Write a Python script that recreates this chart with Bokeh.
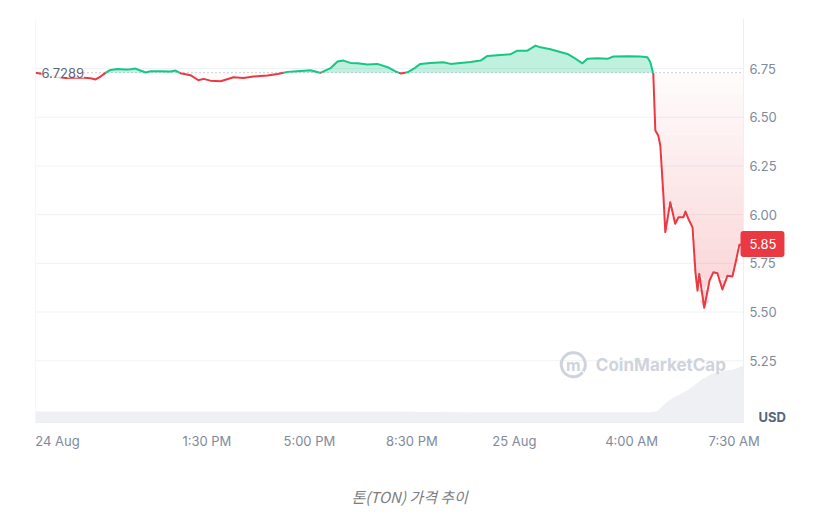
from bokeh.plotting import figure
from bokeh.models import Range1d, FixedTicker, Span, Label, Title
from bokeh.embed import file_html
from bokeh.resources import INLINE
from bokeh.core.properties import value
import numpy as np

# ---- data (hours since 24 Aug 00:00, TON price in USD) ----
hours = [7.65, 7.99, 8.33, 8.68, 9.19, 9.53, 9.70, 9.87, 10.04, 10.21, 10.45, 10.72, 10.89,
         11.06, 11.23, 11.41, 11.58, 11.92, 12.26, 12.43, 12.60, 12.94, 13.21, 13.39, 13.62,
         13.97, 14.41, 14.75, 15.09, 15.57, 15.91, 16.25, 16.70, 17.04, 17.38, 17.72, 17.96,
         18.16, 18.40, 18.64, 18.98, 19.32, 19.67, 19.94, 20.11, 20.35, 20.55, 20.79, 21.13,
         21.58, 21.82, 22.16, 22.50, 22.84, 23.08, 23.42, 23.86, 24.10, 24.44, 24.72, 24.89,
         25.23, 25.47, 25.81, 26.01, 26.32, 26.49, 26.83, 27.17, 27.38, 27.86, 28.30, 28.54,
         28.64, 28.74, 28.81, 28.91, 28.98, 29.09, 29.15, 29.32, 29.49, 29.60, 29.77, 29.84,
         29.94, 30.08, 30.18, 30.25, 30.31, 30.48, 30.66, 30.79, 30.93, 31.10, 31.27, 31.44,
         31.54, 31.68, 31.82]
prices = [6.728, 6.719, 6.709, 6.701, 6.704, 6.700, 6.694, 6.709, 6.728, 6.743, 6.748, 6.745, 6.746,
          6.750, 6.740, 6.730, 6.736, 6.736, 6.735, 6.740, 6.726, 6.716, 6.690, 6.697, 6.688,
          6.685, 6.705, 6.702, 6.709, 6.714, 6.722, 6.733, 6.738, 6.741, 6.728, 6.752, 6.786,
          6.791, 6.779, 6.777, 6.771, 6.774, 6.757, 6.735, 6.725, 6.731, 6.748, 6.774, 6.779,
          6.782, 6.774, 6.779, 6.784, 6.791, 6.815, 6.818, 6.823, 6.842, 6.842, 6.868, 6.859,
          6.849, 6.839, 6.825, 6.808, 6.777, 6.800, 6.803, 6.800, 6.812, 6.813, 6.812, 6.808,
          6.782, 6.723, 6.432, 6.406, 6.355, 6.089, 5.910, 6.064, 5.953, 5.987, 5.987, 6.016,
          5.978, 5.935, 5.704, 5.610, 5.696, 5.522, 5.662, 5.704, 5.699, 5.616, 5.686, 5.682,
          5.747, 5.846, 5.846]
open_price = 6.7289
last_price = 5.85

vol_hours = [7.65, 20.11, 20.79, 22.84, 28.64, 28.88, 29.22, 29.56, 29.90, 30.35, 30.69, 31.03, 31.47, 31.82]
vol_values = [11, 11, 10.5, 10.3, 10.3, 11.5, 21, 27, 32, 42, 48, 51, 53, 57]

tick_pos = [8.40, 13.5, 17.0, 20.5, 24.0, 28.0, 31.5]
tick_labels = ["24 Aug", "1:30 PM", "5:00 PM", "8:30 PM", "25 Aug", "4:00 AM", "7:30 AM"]
y_ticks = [5.25, 5.50, 5.75, 6.00, 6.25, 6.50, 6.75]

GREEN = "#16c784"
RED = "#ea3943"
GRAY = "#808a9d"
DARK = "#58667e"
FONT = "Inter"

x0, x1 = 7.65, 31.82
y0, y1 = 4.933, 7.007
PLOT_W = 708          # pixel width of the data area
EXTRA_W = 68          # room at the right for the price scale
x_end = x1 + EXTRA_W * (x1 - x0) / PLOT_W

p = figure(frame_width=PLOT_W + EXTRA_W, frame_height=404, x_range=Range1d(x0, x_end),
           y_range=Range1d(y0, y1), output_backend="svg", toolbar_location=None,
           y_axis_location="right",
           min_border_left=35, min_border_right=0, min_border_top=18, min_border_bottom=95)
p.outline_line_color = None
p.background_fill_color = "white"
p.border_fill_color = "white"

# grid lines limited to the data area
p.xgrid.visible = False
p.ygrid.visible = False
p.segment(x0=[x0] * len(y_ticks), x1=[x1] * len(y_ticks), y0=y_ticks, y1=y_ticks,
          line_color="#eff2f5", line_width=1)

# volume on its own range
p.extra_y_ranges = {"vol": Range1d(0, 404)}
p.varea(x=vol_hours, y1=0, y2=vol_values, y_range_name="vol", fill_color="#eef0f4", fill_alpha=1)

# split series at the open-price crossings
xs, ys = [], []
for i in range(len(hours)):
    if i > 0 and (prices[i - 1] - open_price) * (prices[i] - open_price) < 0:
        f = (open_price - prices[i - 1]) / (prices[i] - prices[i - 1])
        xs.append(hours[i - 1] + f * (hours[i] - hours[i - 1]))
        ys.append(open_price)
    xs.append(hours[i])
    ys.append(prices[i])
xs = np.array(xs)
ys = np.array(ys)

# green fill above open
p.varea(x=xs, y1=open_price, y2=np.maximum(ys, open_price), fill_color=GREEN, fill_alpha=0.27)

# red gradient fill below open (stacked bands)
levels = np.linspace(open_price, 5.40, 26)
alphas = np.linspace(0.02, 0.24, 25)
for k in range(25):
    hi, lo = levels[k], levels[k + 1]
    y_low = np.clip(ys, lo, hi)
    p.varea(x=xs, y1=y_low, y2=hi, fill_color=RED, fill_alpha=float(alphas[k]))

# frame side lines
p.add_layout(Span(location=x0, dimension="height", line_color="#eceff3", line_width=1))
p.add_layout(Span(location=x1, dimension="height", line_color="#eceff3", line_width=1))

# open price dotted line
p.segment(x0=[x0], x1=[x1], y0=[open_price], y1=[open_price], line_color="#9aa1b1",
          line_width=1, line_dash="1 3")

# price lines
g = np.where(ys >= open_price, ys, np.nan)
r = np.where(ys <= open_price, ys, np.nan)
p.line(xs, r, line_color=RED, line_width=2, line_join="round")
p.line(xs, g, line_color=GREEN, line_width=2, line_join="round")

# axes
yax = p.yaxis[0]
yax.fixed_location = x1
yax.ticker = FixedTicker(ticks=y_ticks)
yax.major_label_overrides = {t: f"{t:.2f}" for t in y_ticks}
yax.axis_line_color = None
yax.major_tick_line_color = None
yax.minor_tick_line_color = None
yax.major_tick_out = 0
yax.major_label_standoff = 6
yax.major_label_text_color = GRAY
yax.major_label_text_font = FONT
yax.major_label_text_font_size = "13px"

xax = p.xaxis[0]
xax.ticker = FixedTicker(ticks=tick_pos)
xax.major_label_overrides = dict(zip(tick_pos, tick_labels))
xax.bounds = (x0, x1)
xax.axis_line_color = "#eceff3"
xax.major_tick_line_color = None
xax.minor_tick_line_color = None
xax.major_tick_out = 0
xax.major_label_standoff = 10
xax.major_label_text_color = GRAY
xax.major_label_text_font = FONT
xax.major_label_text_font_size = "13px"

# open price label
p.add_layout(Label(x=x0, y=open_price, x_offset=6, text="6.7289", text_baseline="middle",
                   text_color=DARK, text_font=FONT, text_font_size="13px",
                   background_fill_color="white", background_fill_alpha=0.92))

# currency label
p.add_layout(Label(x=x1, y=4.963, x_offset=15, text="USD", text_baseline="middle",
                   text_color=DARK, text_font=FONT, text_font_size="13px",
                   text_font_style="bold"))

# last price tag
p.add_layout(Label(x=x1, y=last_price, x_offset=-3, text=f"{last_price:.2f}", text_baseline="middle",
                   text_align="left", text_color="white", text_font=FONT, text_font_size="13px",
                   background_fill_color=RED, border_radius=3,
                   padding=dict(left=9, right=8, top=8, bottom=8)))

# watermark
p.arc(x=[26.01], y=[5.230], radius=12, radius_units="screen", start_angle=-0.6, end_angle=5.6,
      line_color="#cfd3dc", line_width=3)
p.text(x=[26.01], y=[5.230], text=["m"], text_align="center", text_baseline="middle",
       text_color="#cfd3dc", text_font=value(FONT), text_font_size="16px", text_font_style="bold")
p.text(x=[26.78], y=[5.230], text=["CoinMarketCap"], text_align="left", text_baseline="middle",
       text_color="#cfd3dc", text_font=value(FONT), text_font_size="17px", text_font_style="bold")

# caption
p.add_layout(Title(text="톤(TON) 가격 추이", align="left", offset=316, standoff=65,
                   text_font="Noto Sans CJK KR", text_font_style="italic", text_font_size="15px",
                   text_color="#7d7d7d"), "below")

open("out.html", "w").write(file_html(p, INLINE))
